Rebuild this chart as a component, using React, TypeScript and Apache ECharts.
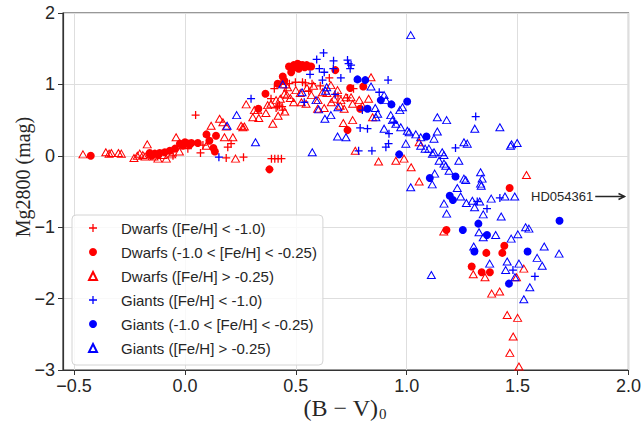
import React, { useEffect, useRef } from "react";
import * as echarts from "echarts";

// ---------- data (B-V)_0 , Mg2800 ----------
const X_TICKS = [-0.5, 0, 0.5, 1, 1.5, 2];

const SERIES_NAMES = [
  "Dwarfs ([Fe/H] < -1.0)",
  "Dwarfs (-1.0 < [Fe/H] < -0.25)",
  "Dwarfs ([Fe/H] > -0.25)",
  "Giants ([Fe/H] < -1.0)",
  "Giants (-1.0 < [Fe/H] < -0.25)",
  "Giants ([Fe/H] > -0.25)",
];

const dwarfsMetalPoor = [
  [-0.054, 0.0], [0.013, 0.1], [0.048, 0.57], [0.07, 0.04], [0.081, 0.15],
  [0.186, -0.03], [0.193, 0.12], [0.208, 0.17], [0.264, -0.02],
  [0.39, -0.04], [0.405, -0.04], [0.42, -0.04], [0.435, -0.04],
  [0.388, 0.8], [0.403, 0.94], [0.411, 0.67], [0.418, 0.69], [0.426, 0.71],
  [0.433, 1.0], [0.438, 0.69], [0.441, 0.64], [0.456, 0.95], [0.471, 1.01],
  [0.498, 1.03], [0.53, 1.03], [0.543, 1.02], [0.558, 0.91], [0.573, 1.01],
  [0.651, 1.09], [0.733, 0.81], [0.76, 0.94], [0.61, 0.98], [0.69, 0.84],
];

const dwarfsMid = [
  [-0.425, 0.0], [-0.159, 0.04], [-0.136, 0.03], [-0.114, 0.04], [-0.091, 0.05],
  [-0.15, 0.0], [-0.12, 0.01], [-0.068, 0.07], [-0.045, 0.1], [-0.023, 0.17],
  [0.0, 0.19], [0.014, 0.17], [0.029, 0.18], [-0.01, 0.14], [0.02, 0.15],
  [0.058, 0.18], [0.097, 0.3], [0.11, 0.21], [0.128, 0.11], [0.14, 0.28],
  [0.135, 0.06], [0.331, 0.66], [0.363, 0.87], [0.381, -0.19], [0.418, 1.01],
  [0.441, 1.11], [0.448, 1.05], [0.469, 1.25], [0.479, 1.17], [0.49, 1.27],
  [0.5, 1.24], [0.508, 1.29], [0.513, 1.22], [0.52, 1.27], [0.531, 1.27],
  [0.54, 1.24], [0.549, 1.27], [0.56, 1.25], [0.569, 1.25], [0.678, 1.2],
  [0.745, 0.95], [0.804, 0.97], [0.79, 0.66], [0.733, 0.36],
  [1.179, -1.04], [1.293, -1.55], [1.338, -1.63], [1.359, -1.36], [1.375, -1.63],
  [1.431, -1.36], [1.44, -1.26], [1.464, -0.45],
];

const dwarfsRich = [
  [-0.46, 0.02], [-0.357, 0.05], [-0.342, 0.03], [-0.332, 0.04], [-0.3, 0.04],
  [-0.287, 0.03], [-0.23, -0.03], [-0.215, 0.0], [-0.204, 0.03], [-0.19, 0.01],
  [-0.17, 0.16], [-0.18, -0.01], [-0.155, 0.02], [-0.14, -0.01], [-0.122, -0.04],
  [-0.1, 0.01], [-0.084, -0.04], [-0.06, 0.02], [-0.04, 0.26], [-0.025, 0.06],
  [0.096, 0.14], [0.118, 0.42], [0.156, 0.52], [0.171, 0.47], [0.178, 0.26],
  [0.186, 0.41], [0.216, 0.26], [0.228, -0.04], [0.253, 0.42], [0.261, 0.4],
  [0.268, 0.41], [0.276, 0.72], [0.306, 0.54], [0.313, 0.64], [0.328, 0.64],
  [0.333, 0.53], [0.365, 0.6], [0.373, 0.71], [0.388, 0.73], [0.396, 0.45],
  [0.411, 0.78], [0.42, 0.56], [0.43, 0.8], [0.448, 0.87], [0.45, 0.62],
  [0.46, 0.85], [0.463, 0.96], [0.475, 0.81], [0.49, 0.75], [0.5, 0.92],
  [0.52, 0.88], [0.525, 0.75], [0.546, 0.73], [0.55, 0.95], [0.57, 0.85],
  [0.58, 0.98], [0.598, 0.66], [0.6, 0.78], [0.62, 0.89], [0.628, 0.67],
  [0.64, 0.88], [0.658, 0.99], [0.66, 0.75], [0.673, 0.8], [0.688, 0.92],
  [0.7, 0.7], [0.703, 0.78], [0.718, 0.66], [0.714, 0.46], [0.726, 0.82],
  [0.749, 0.82], [0.756, 0.73], [0.756, 0.5], [0.786, 0.78], [0.8, 0.7],
  [0.828, 0.8], [0.839, 1.1], [0.846, 0.54], [0.768, 0.07], [0.873, -0.08],
  [0.951, -0.07], [0.988, -0.04], [1.02, -0.16], [1.056, 0.19], [1.056, -0.36],
  [1.167, -1.06], [1.3, -1.66], [1.353, -1.7], [1.383, -1.93], [1.419, -1.9],
  [1.453, -2.23], [1.465, -2.76], [1.48, -2.53], [1.495, -1.7], [1.5, -2.27],
  [1.506, -2.95], [1.528, -1.58], [1.54, -0.27],
];

const giantsMetalPoor = [
  [0.153, -0.02], [0.298, 0.8], [0.538, 0.75], [0.564, 1.14], [0.594, 1.35],
  [0.606, 1.22], [0.62, 1.06], [0.625, 1.44], [0.628, 1.17], [0.67, 1.33],
  [0.669, 1.22], [0.677, 0.86], [0.703, 1.09], [0.733, 1.34], [0.738, 1.29],
  [0.749, 1.27], [0.745, 1.22], [0.79, 0.39], [0.8, 0.64], [0.823, 0.38],
  [0.783, 0.07], [0.843, 0.07], [0.876, 0.89], [0.916, 1.06], [0.92, 0.31],
  [0.918, 0.17], [0.906, 0.12], [0.943, 0.47], [1.22, 0.11], [1.311, 0.55],
  [1.318, -0.64], [1.362, -0.74], [1.42, -0.59], [1.479, -1.6], [1.578, -1.69],
];

const giantsMid = [
  [0.778, 1.07], [0.813, 1.06], [0.823, 0.66], [0.883, 0.78], [0.931, 0.72],
  [1.002, 0.76], [1.089, 0.27], [0.966, 0.02], [1.104, -0.31], [1.22, -0.29],
  [1.194, -0.56], [1.208, -0.62], [1.253, -1.04], [1.323, -0.95], [1.362, -1.11],
  [1.305, -1.34], [1.545, -1.34], [1.689, -0.91], [1.461, -1.79],
];

const giantsRich = [
  [0.19, 0.42], [0.233, 0.57], [0.318, 0.19], [0.441, 1.0], [0.528, 0.89],
  [0.574, 0.05], [0.591, 0.78], [0.603, 0.65], [0.631, 0.52], [0.634, 0.91],
  [0.639, 0.96], [0.658, 0.57], [0.688, 0.27], [0.69, 0.68], [0.726, 0.26],
  [0.839, 0.97], [0.858, 0.67], [0.861, 0.54], [0.869, 0.59], [0.898, 0.85],
  [0.906, 0.78], [0.898, 0.38], [0.928, 0.57], [0.936, 0.5], [0.951, 0.45],
  [0.969, 0.64], [0.973, 0.4], [0.981, 0.68], [0.996, 0.17], [1.003, 0.35],
  [1.011, 0.33], [1.018, 1.69], [1.018, -0.44], [1.041, 0.3], [1.063, 0.26],
  [1.063, 0.14], [1.083, 0.1], [1.1, 0.1], [1.111, -1.67], [1.115, -0.4],
  [1.116, 0.03], [1.123, 0.05], [1.123, 0.24], [1.126, -0.25], [1.138, 0.34],
  [1.138, 0.54], [1.146, -0.07], [1.16, 0.05], [1.168, 0.01], [1.168, -0.11],
  [1.168, -0.67], [1.176, -0.14], [1.18, 0.5], [1.18, -0.81], [1.191, -0.21],
  [1.228, -0.45], [1.235, -0.07], [1.243, -0.57], [1.258, 0.19], [1.258, -0.32],
  [1.266, -0.34], [1.269, -0.66], [1.273, 0.17], [1.296, -0.63], [1.302, -1.27],
  [1.306, -0.72], [1.307, 0.38], [1.326, -1.07], [1.329, -0.64], [1.333, -0.23],
  [1.333, -0.39], [1.336, -0.42], [1.34, -0.32], [1.345, -0.82], [1.345, -1.14],
  [1.374, -1.51], [1.381, -0.6], [1.401, -1.11], [1.42, 0.4], [1.426, -0.85],
  [1.443, -0.57], [1.446, -1.6], [1.453, -1.48], [1.468, 0.14], [1.471, -1.16],
  [1.473, 0.16], [1.487, -0.57], [1.488, -1.7], [1.498, 0.18], [1.501, -1.1],
  [1.506, -1.51], [1.528, -2.01], [1.536, -1.0], [1.551, -1.02], [1.555, -1.84],
  [1.588, -1.43], [1.611, -1.54], [1.62, -1.27], [1.687, -1.37],
];

// annotation: arrow tip and text anchor (data coords)
const ANNOT_LABEL = "HD054361";
const ANNOT_TIP = [1.982, -0.57];
const ANNOT_TEXT_END_X = 1.85;

const RED = "#ff0000";
const BLUE = "#0000ff";
const INK = "#262626";
const PLUS_PATH =
  "path://M0.42,0H0.58V0.42H1V0.58H0.58V1H0.42V0.58H0V0.42H0.42Z";

const minus = (s: string) => s.replace("-", "\u2212");

export default function App() {
  const ref = useRef<HTMLDivElement>(null);
  useEffect(() => {
    const chart = echarts.init(ref.current!, null, { renderer: "svg" });

    const plus = (name: string, data: number[][], color: string) => ({
      type: "scatter",
      name,
      data,
      symbol: PLUS_PATH,
      symbolSize: 8,
      itemStyle: { color, opacity: 1 },
    });
    const dot = (name: string, data: number[][], color: string) => ({
      type: "scatter",
      name,
      data,
      symbol: "circle",
      symbolSize: 8,
      itemStyle: { color, opacity: 1 },
    });
    const tri = (name: string, data: number[][], color: string) => ({
      type: "scatter",
      name,
      data,
      symbol: "triangle",
      symbolSize: [8, 7],
      itemStyle: {
        color: "rgba(255,255,255,0)",
        borderColor: color,
        borderWidth: 1,
        opacity: 1,
      },
    });

    chart.setOption({
      animation: false,
      backgroundColor: "#ffffff",
      textStyle: { fontFamily: "Liberation Sans" },
      grid: {
        left: 63,
        right: 14,
        top: 13,
        bottom: 53,
        show: true,
        borderColor: "#333333",
        borderWidth: 1.2,
        backgroundColor: "transparent",
      },
      xAxis: {
        type: "value",
        min: -0.55,
        max: 2.0,
        axisLine: {
          show: true,
          onZero: false,
          lineStyle: { color: "#333333", width: 1.2 },
        },
        axisTick: {
          show: true,
          inside: false,
          length: 5,
          customValues: X_TICKS,
          lineStyle: { color: "#333333", width: 1 },
        },
        axisLabel: {
          customValues: X_TICKS,
          margin: 7,
          fontSize: 18,
          color: INK,
          fontFamily: "Liberation Sans",
          formatter: (v: number) => minus(v.toFixed(1)),
        },
        splitLine: { show: true, lineStyle: { color: "#dedede", width: 1 } },
      },
      yAxis: {
        type: "value",
        min: -3,
        max: 2,
        interval: 1,
        axisLine: {
          show: true,
          onZero: false,
          lineStyle: { color: "#333333", width: 1.2 },
        },
        axisTick: {
          show: true,
          inside: false,
          length: 5,
          lineStyle: { color: "#333333", width: 1 },
        },
        axisLabel: {
          margin: 8,
          fontSize: 18,
          color: INK,
          fontFamily: "Liberation Sans",
          formatter: (v: number) => minus(String(v)),
        },
        splitLine: { show: true, lineStyle: { color: "#dedede", width: 1 } },
      },
      legend: {
        data: SERIES_NAMES,
        orient: "vertical",
        left: 72,
        top: 215,
        itemWidth: 8,
        itemHeight: 8,
        itemGap: 8,
        padding: [5, 6, 9, 16],
        backgroundColor: "rgba(255,255,255,0.8)",
        borderColor: "#d4d4d4",
        borderWidth: 1,
        borderRadius: 4,
        textStyle: {
          fontSize: 15,
          lineHeight: 16,
          color: INK,
          fontFamily: "Liberation Sans",
          padding: [0, 0, 0, 19],
        },
      },
      graphic: [
        {
          type: "text",
          x: 23,
          y: 177,
          rotation: Math.PI / 2,
          style: {
            text: "Mg2800 (mag)",
            fontSize: 20,
            fontFamily: "Liberation Serif",
            fill: INK,
            align: "center",
            verticalAlign: "middle",
          },
        },
        {
          type: "text",
          x: 378,
          y: 408,
          style: {
            text: "(B \u2212 V)",
            fontSize: 24,
            fontFamily: "Liberation Serif",
            fill: INK,
            align: "right",
            verticalAlign: "middle",
          },
        },
        {
          type: "text",
          x: 379,
          y: 414,
          style: {
            text: "0",
            fontSize: 15,
            fontFamily: "Liberation Serif",
            fill: INK,
            align: "left",
            verticalAlign: "middle",
          },
        },
      ],
      series: [
        plus(SERIES_NAMES[0], dwarfsMetalPoor, RED),
        dot(SERIES_NAMES[1], dwarfsMid, RED),
        tri(SERIES_NAMES[2], dwarfsRich, RED),
        plus(SERIES_NAMES[3], giantsMetalPoor, BLUE),
        dot(SERIES_NAMES[4], giantsMid, BLUE),
        tri(SERIES_NAMES[5], giantsRich, BLUE),
        {
          type: "custom",
          name: "annotation",
          silent: true,
          z: 10,
          data: [[ANNOT_TIP[0], ANNOT_TIP[1], ANNOT_TEXT_END_X]],
          renderItem: (_p: any, api: any) => {
            const tip = api.coord([api.value(0), api.value(1)]);
            const tail = api.coord([api.value(2), api.value(1)]);
            return {
              type: "group",
              children: [
                {
                  type: "text",
                  style: {
                    text: ANNOT_LABEL,
                    x: tail[0] - 2,
                    y: tail[1],
                    align: "right",
                    verticalAlign: "middle",
                    fontSize: 13,
                    fontFamily: "Liberation Sans",
                    fill: INK,
                  },
                },
                {
                  type: "line",
                  shape: { x1: tail[0], y1: tail[1], x2: tip[0], y2: tip[1] },
                  style: { stroke: INK, lineWidth: 1.5 },
                },
                {
                  type: "polyline",
                  shape: {
                    points: [
                      [tip[0] - 6, tip[1] - 3],
                      [tip[0], tip[1]],
                      [tip[0] - 6, tip[1] + 3],
                    ],
                  },
                  style: { stroke: INK, fill: "none", lineWidth: 1.5 },
                },
              ],
            };
          },
        },
      ],
    });
    return () => chart.dispose();
  }, []);

  return (
    <div
      ref={ref}
      style={{ position: "absolute", left: 0, top: 0, width: 644, height: 423 }}
    />
  );
}
